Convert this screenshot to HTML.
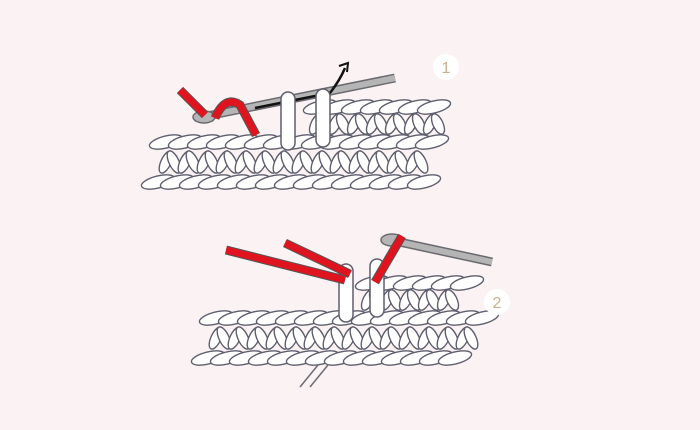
<!DOCTYPE html>
<html><head><meta charset="utf-8"><style>
html,body{margin:0;padding:0;background:#fbf3f3;}
svg{display:block}
</style></head><body>
<svg id="s" width="700" height="430" viewBox="0 0 700 430">
<rect width="700" height="430" fill="#fbf3f3"/>
<g id="g1"></g>
<g>
  <line x1="202" y1="117" x2="395" y2="78" stroke="#6a6a70" stroke-width="9" stroke-linecap="butt"/>
  <line x1="202" y1="117" x2="395" y2="78" stroke="#b5b5b5" stroke-width="6"/>
  <ellipse cx="204" cy="117" rx="11" ry="6" fill="#b5b5b5" stroke="#6a6a70" stroke-width="1.5"/>
  <path d="M255 108 L330 93 Q340 80 345 68" stroke="#111" stroke-width="2.5" fill="none"/>
  <path d="M339 66 L348 63 L347 72" stroke="#111" stroke-width="2" fill="none"/>
</g>
<g>
  <path d="M180 90 L205 115" stroke="#555" stroke-width="9"/>
  <path d="M180 90 L205 115" stroke="#e0141e" stroke-width="7"/>
  <path d="M215 118 Q225 95 240 105 L256 135" stroke="#555" stroke-width="9" fill="none"/>
  <path d="M215 118 Q225 95 240 105 L256 135" stroke="#e0141e" stroke-width="7" fill="none"/>
</g>
<g id="l1"></g>
<g id="g2"></g>
<g>
  <line x1="390" y1="240" x2="492" y2="262" stroke="#6a6a70" stroke-width="9"/>
  <line x1="390" y1="240" x2="492" y2="262" stroke="#b5b5b5" stroke-width="6"/>
  <ellipse cx="392" cy="240" rx="11" ry="6" fill="#b5b5b5" stroke="#6a6a70" stroke-width="1.5"/>
</g>
<g id="l2"></g>
<g>
  <path d="M226 250 L345 280" stroke="#555" stroke-width="9"/>
  <path d="M226 250 L345 280" stroke="#e0141e" stroke-width="7"/>
  <path d="M285 243 L350 274" stroke="#555" stroke-width="9"/>
  <path d="M285 243 L350 274" stroke="#e0141e" stroke-width="7"/>
  <path d="M402 236 L375 282" stroke="#555" stroke-width="9"/>
  <path d="M402 236 L375 282" stroke="#e0141e" stroke-width="7"/>
  <line x1="300" y1="387" x2="318" y2="365" stroke="#6a6a75" stroke-width="1.5"/>
  <line x1="310" y1="387" x2="328" y2="365" stroke="#6a6a75" stroke-width="1.5"/>
</g>
<g>
  <circle cx="446" cy="67" r="13" fill="#fff"/>
  <text x="446" y="73" text-anchor="middle" font-family="Liberation Sans, sans-serif" font-size="16" fill="#c9b08c">1</text>
</g>
<g>
  <circle cx="497" cy="302" r="13" fill="#fff"/>
  <text x="497" y="308" text-anchor="middle" font-family="Liberation Sans, sans-serif" font-size="16" fill="#c9b08c">2</text>
</g>
</svg>
<script>
const NS="http://www.w3.org/2000/svg";
function ell(g,cx,cy,rx,ry,rot){
  const e=document.createElementNS(NS,"ellipse");
  
  
  e.setAttribute("cx",cx);e.setAttribute("cy",cy);e.setAttribute("rx",rx);e.setAttribute("ry",ry);
  e.setAttribute("transform","rotate("+rot+" "+cx+" "+cy+")");
  e.setAttribute("fill","#fff");e.setAttribute("stroke","#5e5e6e");e.setAttribute("stroke-width","1.4");
  g.appendChild(e);
}
function fabric(g,x0,x1,yb,upx0,upx1){
  for(let x=x0;x<x1;x+=19) ell(g,x,yb,17,6,-14);
  for(let x=x0+12;x<x1+5;x+=19){ell(g,x-4,yb-20,5,12,25);ell(g,x+4,yb-20,5,12,-25);}
  for(let x=x0+8;x<x1+15;x+=19) ell(g,x,yb-40,17,6,-14);
  for(let x=upx0;x<upx1;x+=19){ell(g,x-4,yb-58,5,11,25);ell(g,x+4,yb-58,5,11,-25);}
  for(let x=upx0;x<upx1+10;x+=19) ell(g,x,yb-75,17,6,-14);
}
function loops(g,arr){arr.forEach(l=>{
  const r=document.createElementNS(NS,"rect");
  
  
  r.setAttribute("x",l[0]-7);r.setAttribute("y",l[1]-26);r.setAttribute("width",14);r.setAttribute("height",58);r.setAttribute("rx",7);
  r.setAttribute("fill","#fff");r.setAttribute("stroke","#5e5e6e");r.setAttribute("stroke-width","1.5");
  g.appendChild(r);});}
fabric(document.getElementById('g1'),158,430,182,320,440);
fabric(document.getElementById('g2'),208,470,358,372,462);
loops(document.getElementById('l1'),[[288,118],[323,115]]);
loops(document.getElementById('l2'),[[346,290],[377,285]]);
</script>
</body></html>
